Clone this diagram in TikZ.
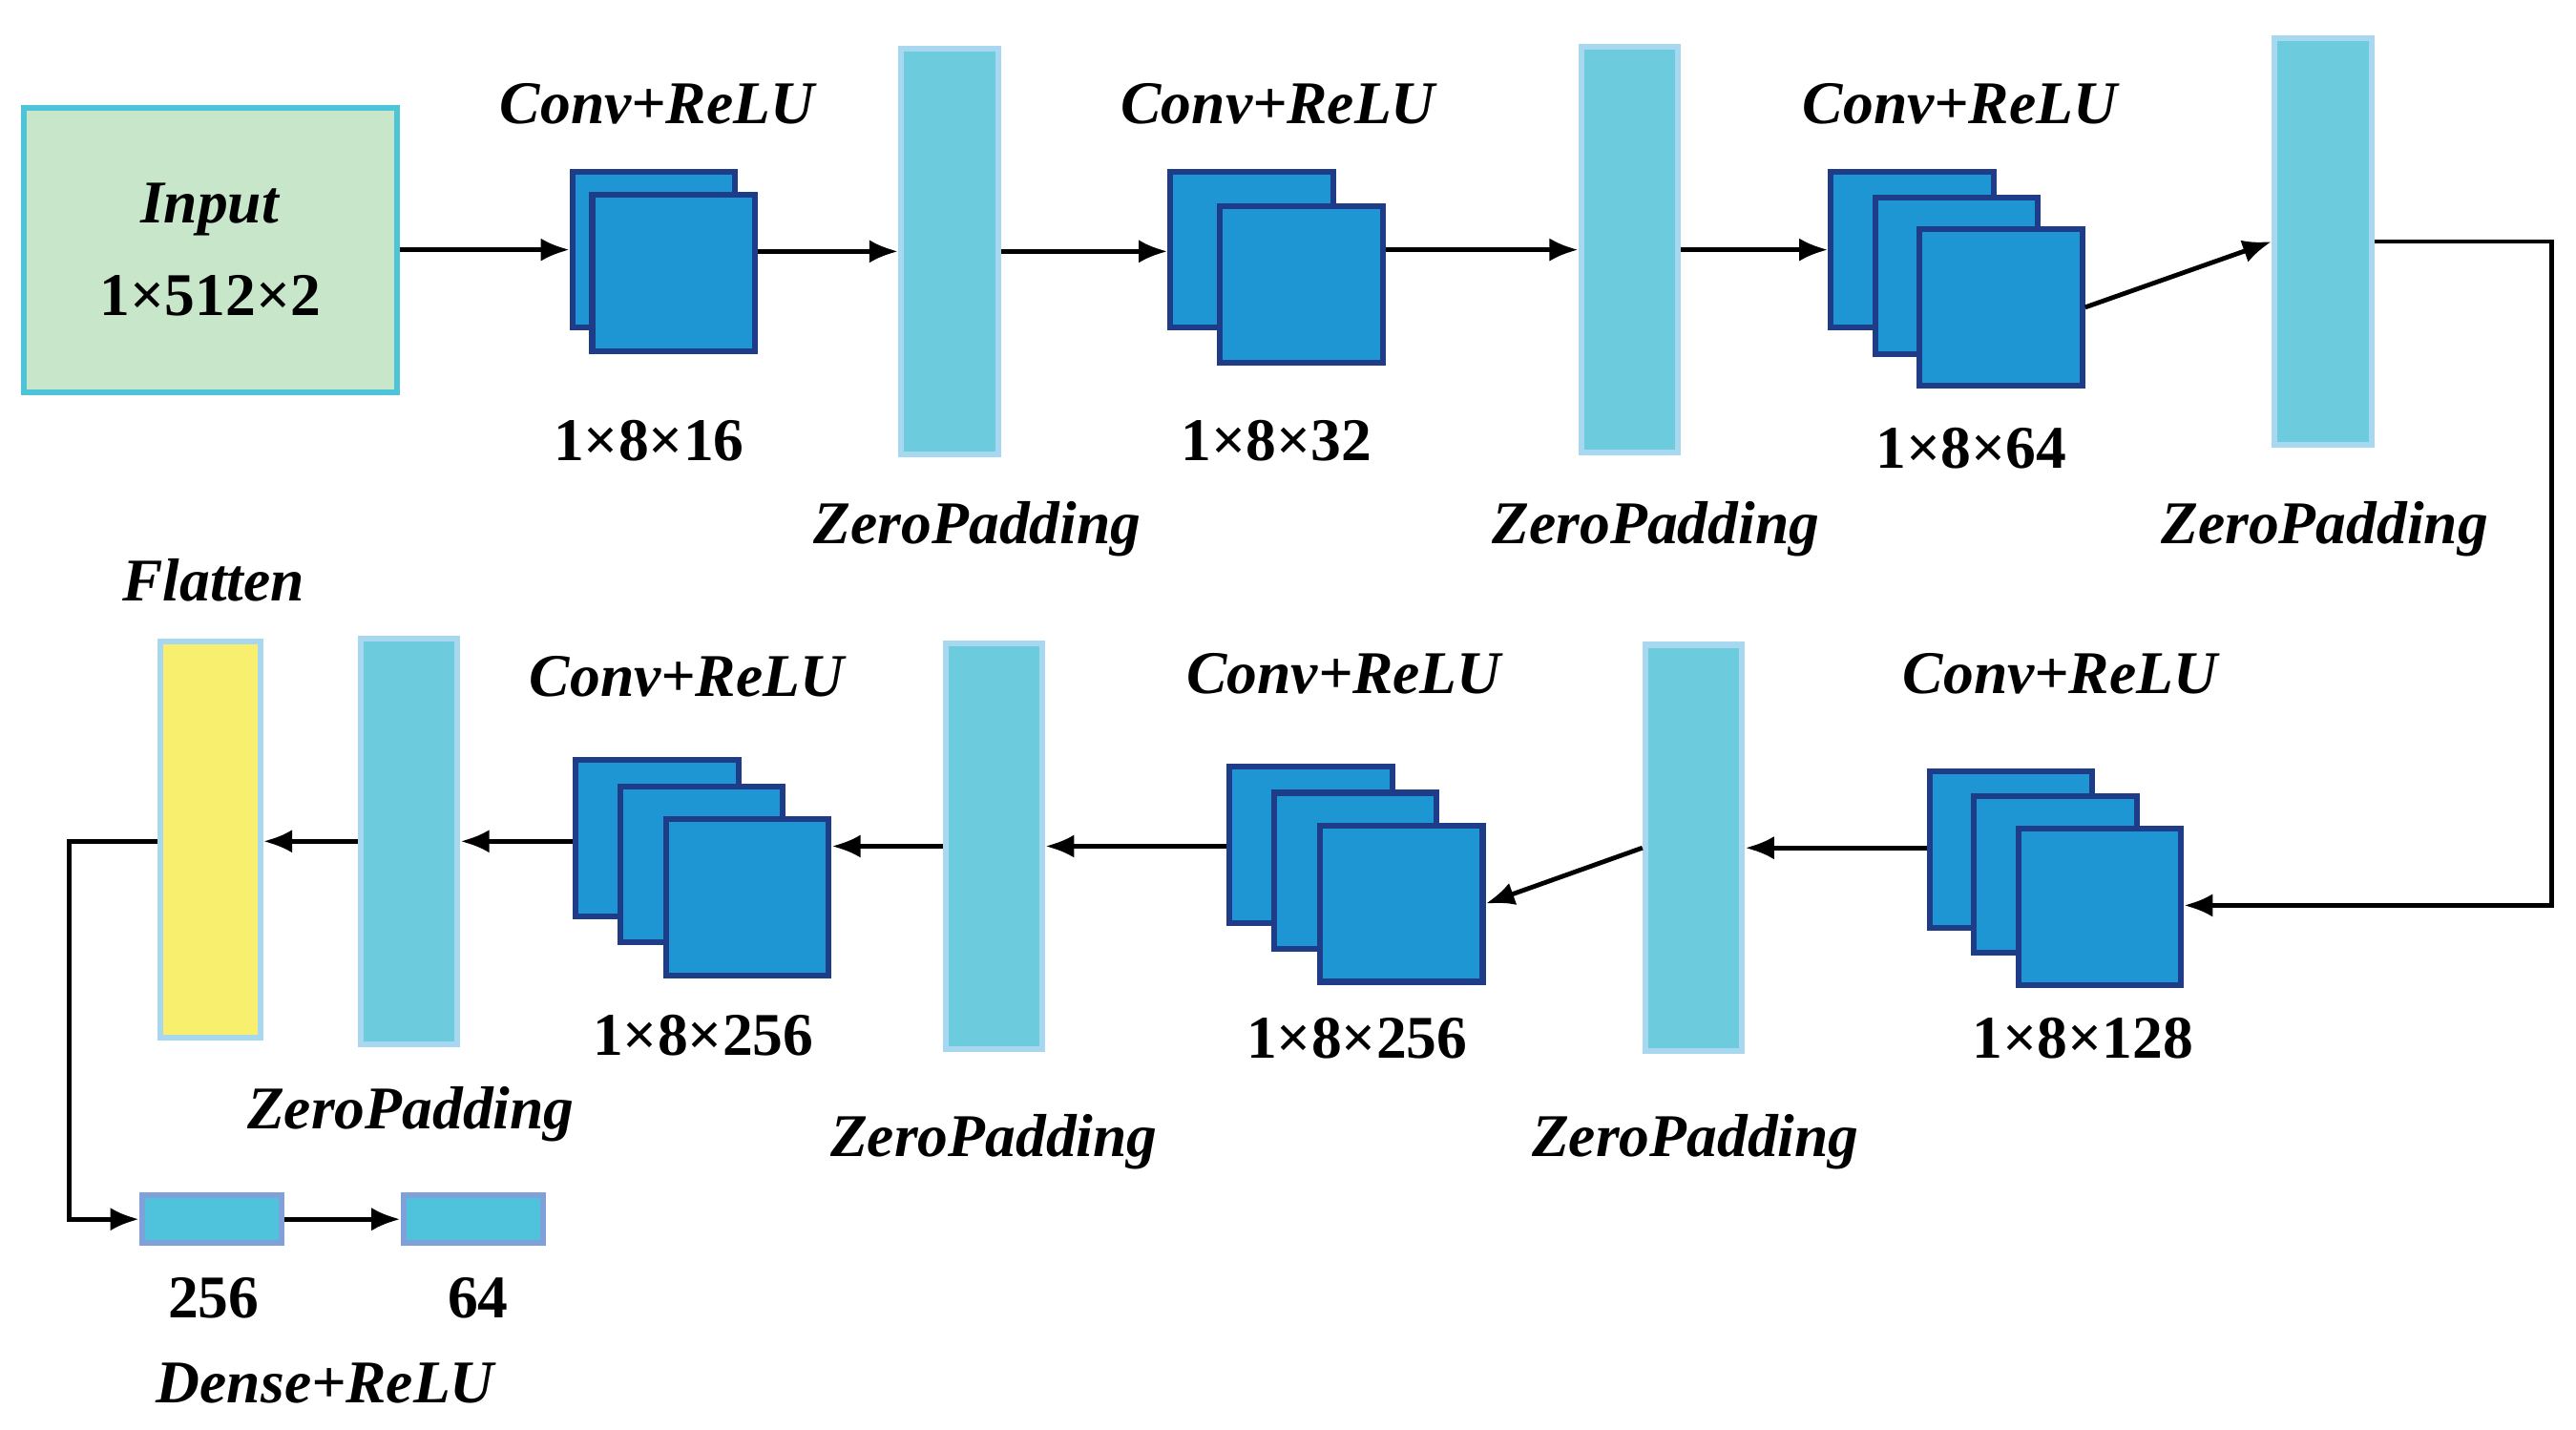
\documentclass[tikz,border=0pt]{standalone}
\usepackage{fontspec}
\setmainfont{Liberation Serif}
\usetikzlibrary{arrows.meta}
\definecolor{inputfill}{HTML}{C8E6C9}
\definecolor{inputline}{HTML}{4DC4D8}
\definecolor{convfill}{HTML}{1E96D4}
\definecolor{convline}{HTML}{1F3C88}
\definecolor{padfill}{HTML}{6CCBDD}
\definecolor{padline}{HTML}{A8D8F0}
\definecolor{flatfill}{HTML}{F8EF6E}
\definecolor{densefill}{HTML}{4FC3DC}
\definecolor{denseline}{HTML}{7FA0D8}
\begin{document}
\begin{tikzpicture}
[
  x=0.01cm, y=-0.01cm,
  every node/.style={font=\fontsize{10.5}{12}\selectfont\bfseries, inner sep=0pt},
  lbl/.style={font=\fontsize{10.5}{12}\selectfont\bfseries\itshape},
  fmap/.style={draw=convline, line width=1pt, fill=convfill, minimum width=0.99cm, minimum height=0.95cm},
  pad/.style={draw=padline, line width=1pt, fill=padfill, minimum width=0.59cm, minimum height=2.47cm},
  dense/.style={draw=denseline, line width=1pt, fill=densefill, minimum width=0.85cm, minimum height=0.29cm},
  arr/.style={line width=0.8pt, -{Latex[length=5pt,width=4pt]}}
]
\useasboundingbox (0,0) rectangle (1568,870);

% input
\node[draw=inputline, line width=1pt, fill=inputfill, minimum width=2.27cm, minimum height=1.73cm,
  align=center] (input) at (128,152) {\textit{Input}\\[4pt]1×512×2};

% first row
\node[fmap] (c1b) at (398,152) {};
\node[fmap] (c1a) at (410,166) {};
\node[lbl] at (400,63) {Conv+ReLU};
\node at (395,268) {1×8×16};

\node[pad] (z1) at (578,153) {};
\node[lbl] at (595,322) {ZeroPadding};

\node[fmap] (c2b) at (762,152) {};
\node[fmap] (c2a) at (792,173) {};
\node[lbl] at (778,63) {Conv+ReLU};
\node at (777,268) {1×8×32};

\node[pad] (z2) at (992,152) {};
\node[lbl] at (1008,322) {ZeroPadding};

\node[fmap] (c3c) at (1164,152) {};
\node[fmap] (c3b) at (1191,168) {};
\node[fmap] (c3a) at (1218,187) {};
\node[lbl] at (1193,63) {Conv+ReLU};
\node at (1200,273) {1×8×64};

\node[pad] (z3) at (1414,147) {};
\node[lbl] at (1415,322) {ZeroPadding};

% second row
\node[fmap] (c4c) at (1224,517) {};
\node[fmap] (c4b) at (1251,532) {};
\node[fmap] (c4a) at (1278,552) {};
\node[lbl] at (1254,410) {Conv+ReLU};
\node at (1268,632) {1×8×128};

\node[pad] (z4) at (1031,516) {};
\node[lbl] at (1032,695) {ZeroPadding};

\node[fmap] (c5c) at (798,514) {};
\node[fmap] (c5b) at (825,530) {};
\node[fmap] (c5a) at (853,550) {};
\node[lbl] at (818,410) {Conv+ReLU};
\node at (826,632) {1×8×256};

\node[pad] (z5) at (605,515) {};
\node[lbl] at (605,695) {ZeroPadding};

\node[fmap] (c6c) at (400,510) {};
\node[fmap] (c6b) at (427,526) {};
\node[fmap] (c6a) at (455,546) {};
\node[lbl] at (418,412) {Conv+ReLU};
\node at (428,630) {1×8×256};

\node[pad] (z6) at (249,512) {};
\node[lbl] at (250,678) {ZeroPadding};

\node[draw=padline, line width=1pt, fill=flatfill, minimum width=0.61cm, minimum height=2.41cm] (flat) at (128,511) {};
\node[lbl] at (130,353) {Flatten};

% dense
\node[dense] (d1) at (129,742) {};
\node[dense] (d2) at (288,742) {};
\node at (130,790) {256};
\node at (291,790) {64};
\node[lbl] at (198,842) {Dense+ReLU};

% connectors
\draw[arr] (input.east) -- (input.east -| c1b.west);
\draw[arr] (c1a.east |- z1) -- (z1.west);
\draw[arr] (z1.east) -- (z1.east -| c2b.west);
\draw[arr] (c2a.east |- z2) -- (z2.west);
\draw[arr] (z2.east) -- (z2.east -| c3c.west);
\draw[arr] (c3a.east) -- (z3.west);
\coordinate (r1) at (1553,147);
\coordinate (r2) at (1553,551);
\draw[arr] (z3.east) -- (r1) -- (r2) -- (r2 -| c4a.east);
\draw[arr] (c4c.west |- z4) -- (z4.east);
\draw[arr] (z4.west) -- (c5a.east);
\draw[arr] (c5c.west |- z5) -- (z5.east);
\draw[arr] (z5.west) -- (z5.west -| c6a.east);
\draw[arr] (c6c.west |- z6) -- (z6.east);
\draw[arr] (z6.west) -- (z6.west -| flat.east);
\coordinate (l1) at (42,512);
\coordinate (l2) at (42,742);
\draw[arr] (flat.west |- l1) -- (l1) -- (l2) -- (d1.west);
\draw[arr] (d1.east) -- (d2.west);
\end{tikzpicture}
\end{document}
